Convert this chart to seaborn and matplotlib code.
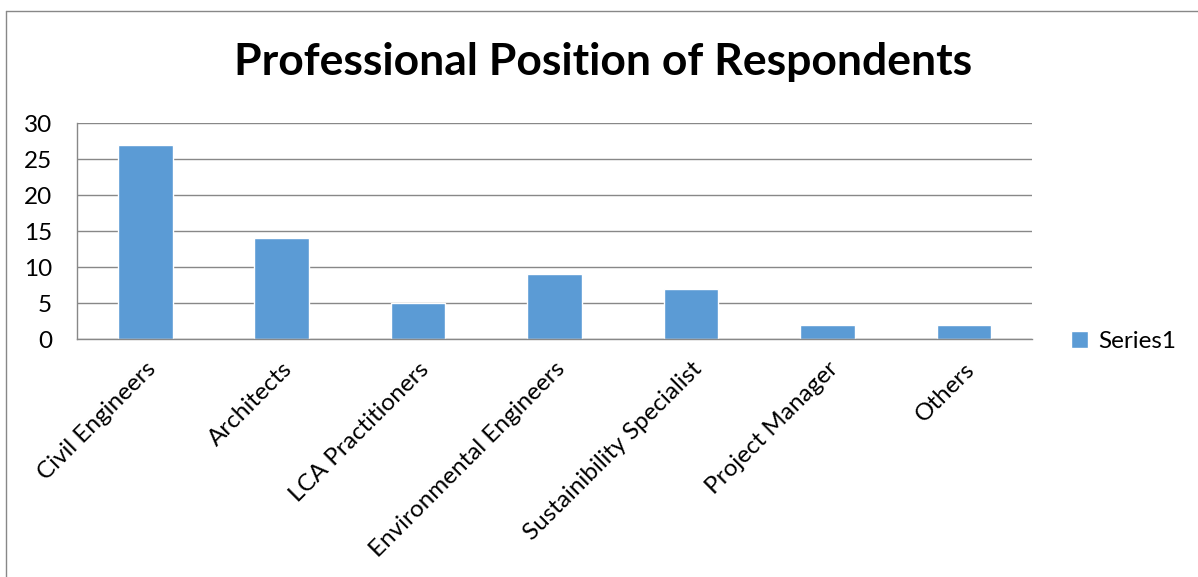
import matplotlib
matplotlib.use("Agg")
import matplotlib.pyplot as plt
import seaborn as sns
import pandas as pd
from matplotlib.lines import Line2D

categories = ["Civil Engineers", "Architects", "LCA Practitioners", "Environmental Engineers",
              "Sustainibility Specialist", "Project Manager", "Others"]
values = [27, 14, 5, 9, 7, 2, 2]
series_name = "Series1"
yticks = [0, 5, 10, 15, 20, 25, 30]
title = "Professional Position of Respondents"

sns.set_theme(style="white")
plt.rcParams['font.family'] = ['Lato', 'DejaVu Sans']
plt.rcParams['text.color'] = 'black'

df = pd.DataFrame({"category": categories, "value": values, "series": [series_name] * len(categories)})

fig = plt.figure(figsize=(11.98, 5.77), dpi=100)
ax = fig.add_axes([77 / 1198, 1 - 339 / 577, (1032 - 77) / 1198, (339 - 123) / 577])

sns.barplot(data=df, x="category", y="value", hue="series", palette=["#5B9BD5"],
            width=0.4, ax=ax, saturation=1, legend=True)

ax.set_ylim(0, 30)
ax.set_xlim(-0.5, len(categories) - 0.5)
ax.set_yticks(yticks)
ax.set_yticklabels([str(t) for t in yticks], fontsize=17.5)
ax.yaxis.grid(True, color="#888888", linewidth=1)
ax.set_axisbelow(True)
ax.set_xlabel("")
ax.set_ylabel("")
for s in ["top", "right"]:
    ax.spines[s].set_visible(False)
for s in ["left", "bottom"]:
    ax.spines[s].set_color("#888888")
    ax.spines[s].set_linewidth(1)
ax.tick_params(axis="y", length=0, pad=18, colors="black")
ax.tick_params(axis="x", length=0, pad=14, colors="black")
ax.set_xticks(range(len(categories)))
ax.set_xticklabels(categories, rotation=45, ha="right", va="top", rotation_mode="anchor", fontsize=17.5)

sns.move_legend(ax, loc="center left", bbox_to_anchor=(1.018, -0.01), frameon=False, title=None,
                fontsize=17.5, handlelength=0.7, handleheight=0.7, handletextpad=0.4,
                labelcolor="black")

fig.text(0.503, 1 - 62 / 577, title, ha="center", va="center", fontsize=32, fontweight="bold",
         color="black")

fig.add_artist(Line2D([6 / 1198, 6 / 1198], [0, 1 - 11 / 577], transform=fig.transFigure, color="#888888", lw=1))
fig.add_artist(Line2D([6 / 1198, 1], [1 - 11 / 577, 1 - 11 / 577], transform=fig.transFigure, color="#888888", lw=1))

fig.savefig("out.png", dpi=100)
